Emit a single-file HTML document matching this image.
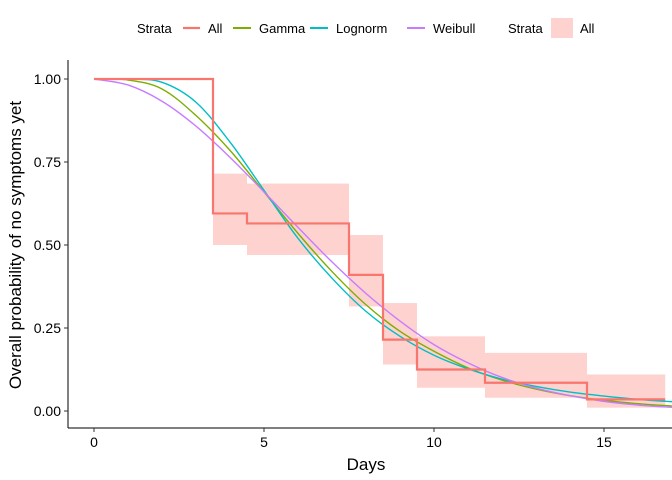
<!DOCTYPE html>
<html><head><meta charset="utf-8"><style>
body{margin:0;background:#fff}
svg{display:block;font-family:"Liberation Sans",Arial,sans-serif}
</style></head><body>
<svg id="chart" width="672" height="480">
<defs><clipPath id="clip"><rect x="68" y="60" width="604" height="370"/></clipPath></defs>
<g id="bands" clip-path="url(#clip)"></g>
<g id="curves" clip-path="url(#clip)"></g>
<g id="step" clip-path="url(#clip)"></g>
<g id="axes"></g>
<g id="legend"></g>
</svg>
<script>
const kmTimes=[0,3.5,4.5,7.5,8.5,9.5,11.5,14.5];
const kmSurv=[1,0.595,0.565,0.41,0.215,0.125,0.085,0.035];
const kmLower=[1,0.5,0.47,0.315,0.14,0.07,0.04,0.01];
const kmUpper=[1,0.715,0.685,0.53,0.325,0.225,0.175,0.11];
const curveDays=[0,1,2,3,4,5,6,7,8,9,10,11,12,13,14,15,16,17];
const gammaVals=[1,0.997,0.97,0.89,0.785,0.66,0.535,0.42,0.32,0.24,0.18,0.13,0.093,0.066,0.046,0.032,0.022,0.015];
const lognormVals=[1,1,0.99,0.93,0.81,0.665,0.52,0.40,0.30,0.225,0.168,0.127,0.096,0.074,0.057,0.045,0.035,0.028];
const weibullVals=[1,0.982,0.933,0.858,0.764,0.66,0.553,0.449,0.354,0.271,0.2,0.145,0.101,0.069,0.046,0.029,0.018,0.011];
const xTicks=[0,5,10,15];
const yTicks=[0,0.25,0.5,0.75,1];
const yTickLabels=["0.00","0.25","0.50","0.75","1.00"];
const tEnd=16.8;
const NS='http://www.w3.org/2000/svg';
const X=t=>94+t*34, Y=s=>411-s*332;
function mk(tag,attrs,parent){const e=document.createElementNS(NS,tag);for(const k in attrs)e.setAttribute(k,attrs[k]);parent.appendChild(e);return e;}
const bands=document.getElementById('bands');
for(let i=1;i<kmTimes.length;i++){
  const t1=kmTimes[i], t2=i+1<kmTimes.length?kmTimes[i+1]:tEnd;
  const r=mk('rect',{x:X(t1),y:Y(kmUpper[i]),width:X(t2)-X(t1),height:Y(kmLower[i])-Y(kmUpper[i]),fill:'#F8766D','fill-opacity':0.33},bands);
  
  
}
const curves=document.getElementById('curves');
function smooth(vals){
  const p=curveDays.map((d,i)=>[X(d),Y(vals[i])]);
  let d='M'+p[0][0]+','+p[0][1];
  for(let i=0;i<p.length-1;i++){
    const p0=p[Math.max(0,i-1)],p1=p[i],p2=p[i+1],p3=p[Math.min(p.length-1,i+2)];
    d+=' C'+(p1[0]+(p2[0]-p0[0])/6)+','+(p1[1]+(p2[1]-p0[1])/6)+' '+(p2[0]-(p3[0]-p1[0])/6)+','+(p2[1]-(p3[1]-p1[1])/6)+' '+p2[0]+','+p2[1];
  }
  return d;
}
[[gammaVals,'#7CAE00','gamma-curve'],[lognormVals,'#00BFC4','lognorm-curve'],[weibullVals,'#C77CFF','weibull-curve']].forEach(([v,c,n])=>{
  const p=mk('path',{d:smooth(v),fill:'none',stroke:c,'stroke-width':1.4},curves);
  
  
});
let d='M'+X(0)+','+Y(kmSurv[0]);
for(let i=1;i<kmTimes.length;i++){d+=' H'+X(kmTimes[i])+' V'+Y(kmSurv[i]);}
d+=' H'+X(tEnd);
const sp=mk('path',{d:d,fill:'none',stroke:'#F8766D','stroke-width':2.2},document.getElementById('step'));


const axes=document.getElementById('axes');
mk('line',{x1:68,y1:60,x2:68,y2:428,stroke:'#000','stroke-width':1},axes);
mk('line',{x1:68,y1:428,x2:672,y2:428,stroke:'#000','stroke-width':1},axes);
xTicks.forEach(t=>{
  mk('line',{x1:X(t),y1:428,x2:X(t),y2:432,stroke:'#333'},axes);
  const tx=mk('text',{x:X(t),y:447,'text-anchor':'middle','font-size':14,fill:'#000'},axes);tx.textContent=t;
  
  
});
yTicks.forEach((s,i)=>{
  mk('line',{x1:64,y1:Y(s),x2:68,y2:Y(s),stroke:'#333'},axes);
  const tx=mk('text',{x:61,y:Y(s)+5,'text-anchor':'end','font-size':14,fill:'#000'},axes);tx.textContent=yTickLabels[i];
  
  
});
</script>
<svg style="position:absolute;left:0;top:0" width="672" height="480">
<text x="366" y="470" text-anchor="middle" font-size="17" font-family="Liberation Sans,sans-serif">Days</text>
<text transform="translate(21,245) rotate(-90)" text-anchor="middle" font-size="17" font-family="Liberation Sans,sans-serif">Overall probability of no symptoms yet</text>
<g font-size="13" font-family="Liberation Sans,sans-serif">
<text x="137" y="33">Strata</text>
<line x1="183" y1="28" x2="200" y2="28" stroke="#F8766D" stroke-width="2.2"/>
<text x="208" y="33">All</text>
<line x1="233" y1="28" x2="251" y2="28" stroke="#7CAE00" stroke-width="2"/>
<text x="259" y="33">Gamma</text>
<line x1="310" y1="28" x2="328" y2="28" stroke="#00BFC4" stroke-width="2"/>
<text x="336" y="33">Lognorm</text>
<line x1="407" y1="28" x2="425" y2="28" stroke="#C77CFF" stroke-width="2"/>
<text x="433" y="33">Weibull</text>
<text x="508" y="33">Strata</text>
<rect x="551" y="18" width="22" height="20" fill="#F8766D" fill-opacity="0.33"/>
<text x="580" y="33">All</text>
</g>
</svg>
</body></html>
